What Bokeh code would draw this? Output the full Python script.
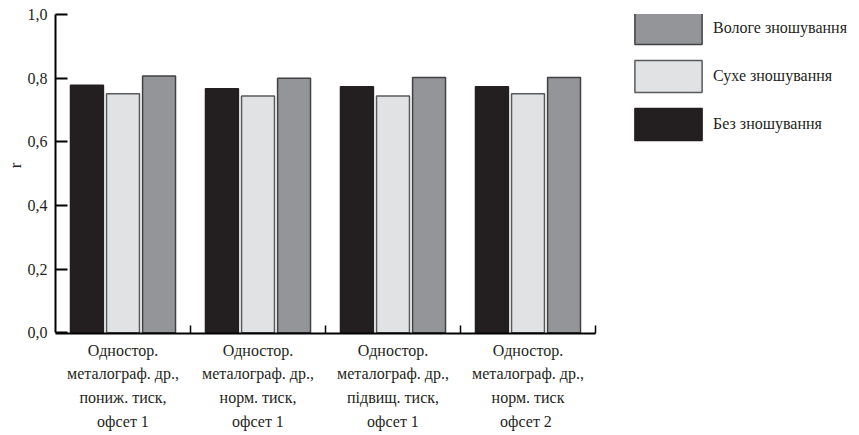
from bokeh.plotting import figure
from bokeh.models import ColumnDataSource, Range1d, FixedTicker, CustomJSTickFormatter, Legend, LegendItem
from bokeh.transform import dodge
from bokeh.embed import file_html
from bokeh.resources import INLINE

categories = [
    "Одностор.\nметалограф. др.,\nпониж. тиск,\nофсет 1",
    "Одностор.\nметалограф. др.,\nнорм. тиск,\nофсет 1",
    "Одностор.\nметалограф. др.,\nпідвищ. тиск,\nофсет 1",
    "Одностор.\nметалограф. др.,\nнорм. тиск\nофсет  2",
]
no_wear = [0.778, 0.767, 0.773, 0.773]
dry_wear = [0.751, 0.744, 0.744, 0.751]
wet_wear = [0.807, 0.800, 0.802, 0.802]
series_names = ["Вологе зношування", "Сухе зношування", "Без зношування"]
y_ticks = [0.0, 0.2, 0.4, 0.6, 0.8, 1.0]

n = len(categories)
centers = [i + 0.5 for i in range(n)]
src = ColumnDataSource(dict(x=centers, no=no_wear, dry=dry_wear, wet=wet_wear))

FONT = "Liberation Serif"
p = figure(width=859, height=435, output_backend="svg", toolbar_location=None,
           x_range=Range1d(0, 804 / 135), y_range=Range1d(-0.002, 1.0),
           min_border_left=55, min_border_right=0, min_border_top=14, min_border_bottom=102)
p.outline_line_color = None
p.xgrid.visible = False
p.ygrid.visible = False

bw = 0.244
off = 0.267
r_no = p.vbar(x=dodge("x", -off), top="no", width=bw, source=src,
              fill_color="#231f20", line_color="#231f20", line_width=1.5)
r_dry = p.vbar(x=dodge("x", 0.0), top="dry", width=bw, source=src,
               fill_color="#e1e2e4", line_color="#58595b", line_width=1.5)
r_wet = p.vbar(x=dodge("x", off), top="wet", width=bw, source=src,
               fill_color="#939598", line_color="#414042", line_width=1.5)

# x axis
xa = p.xaxis[0]
xa.bounds = (0, n)
xa.ticker = FixedTicker(ticks=centers, minor_ticks=[i + 1 for i in range(n)])
xa.major_label_overrides = {c: lab for c, lab in zip(centers, categories)}
xa.major_tick_in = 0
xa.major_tick_out = 0
xa.minor_tick_in = 8
xa.minor_tick_out = 0
xa.minor_tick_line_width = 1.5
xa.minor_tick_line_color = "black"
xa.axis_line_color = "black"
xa.axis_line_width = 2
xa.major_label_text_font = FONT
xa.major_label_text_font_size = "16px"
xa.major_label_text_color = "#231f20"
xa.major_label_text_line_height = 1.4
xa.major_label_standoff = 8

# y axis
ya = p.yaxis[0]
ya.bounds = (0, 1)
ya.ticker = FixedTicker(ticks=y_ticks, minor_ticks=[])
ya.formatter = CustomJSTickFormatter(code="return tick.toFixed(1).replace('.', ',');")
ya.major_tick_in = 12
ya.major_tick_out = 0
ya.major_tick_line_width = 2
ya.major_tick_line_color = "black"
ya.axis_line_color = "black"
ya.axis_line_width = 2
ya.major_label_text_font = FONT
ya.major_label_text_font_size = "16px"
ya.major_label_text_color = "#231f20"
ya.major_label_standoff = 8
ya.axis_label = "\u00a0\u00a0\u00a0\u00a0r"
ya.axis_label_text_font = FONT
ya.axis_label_text_font_style = "normal"
ya.axis_label_text_font_size = "17px"
ya.axis_label_text_color = "#231f20"
ya.axis_label_standoff = 0

legend = Legend(items=[
    LegendItem(label=series_names[0], renderers=[r_wet]),
    LegendItem(label=series_names[1], renderers=[r_dry]),
    LegendItem(label=series_names[2], renderers=[r_no]),
], location=(571, 189))
legend.glyph_width = 84
legend.glyph_height = 40
legend.spacing = 8
legend.padding = 0
legend.margin = 0
legend.label_standoff = 3
legend.border_line_color = None
legend.background_fill_alpha = 0
legend.label_text_font = FONT
legend.label_text_font_size = "16px"
legend.label_text_color = "#231f20"
p.add_layout(legend)

open("out.html", "w").write(file_html(p, INLINE))
